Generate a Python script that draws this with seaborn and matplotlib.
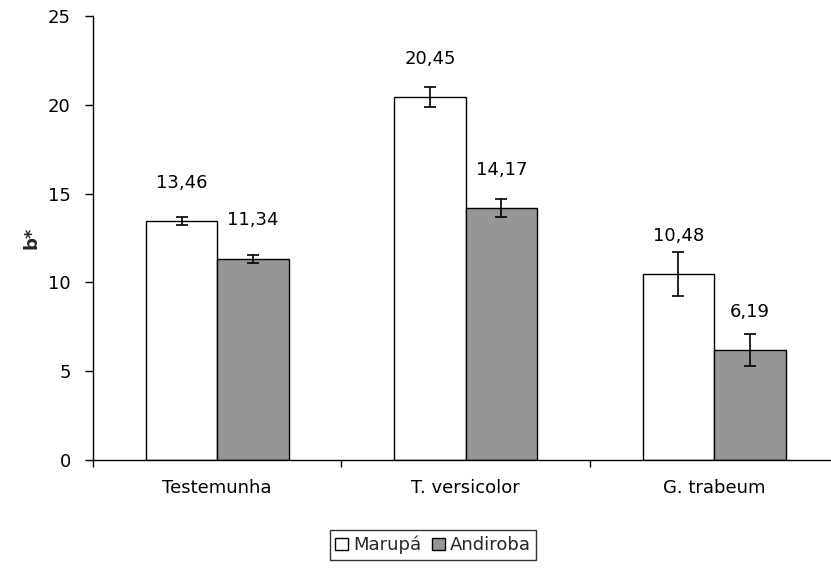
import matplotlib
matplotlib.use("Agg")
import matplotlib.pyplot as plt
import seaborn as sns
import pandas as pd
from matplotlib.ticker import FixedLocator

categories = ["Testemunha", "T. versicolor", "G. trabeum"]
series = ["Marupá", "Andiroba"]
marupa = [13.46, 20.45, 10.48]
andiroba = [11.34, 14.17, 6.19]
marupa_err = [0.25, 0.56, 1.24]
andiroba_err = [0.22, 0.50, 0.90]
yticks = [0, 5, 10, 15, 20, 25]

df = pd.DataFrame({
    "cat": categories * 2,
    "serie": [series[0]] * 3 + [series[1]] * 3,
    "val": marupa + andiroba,
    "err": marupa_err + andiroba_err,
})

sns.set_theme(style="white")
plt.rcParams["font.family"] = ["DejaVu Sans"]
FS = 13

fig = plt.figure(figsize=(8.31, 5.70), dpi=100)
ax_w = 1 - 93 / 831
ax = fig.add_axes([93 / 831, 110 / 570, ax_w, (460 - 16) / 570])

sns.barplot(data=df, x="cat", y="val", hue="serie", order=categories,
            hue_order=series, palette=["white", "#969696"], width=0.575,
            edgecolor="black", linewidth=1.0, errorbar=None, ax=ax,
            saturation=1)

for cont, errs in zip(ax.containers, [marupa_err, andiroba_err]):
    for rect, e in zip(cont, errs):
        x = rect.get_x() + rect.get_width() / 2
        h = rect.get_height()
        ax.errorbar(x, h, yerr=e, color="black", capsize=4.3, elinewidth=1.2,
                    capthick=1.2, fmt="none", zorder=5)
        ax.annotate(f"{h:.2f}".replace(".", ","), xy=(x, h), xytext=(0, 21),
                    textcoords="offset points", ha="center", va="bottom",
                    fontsize=FS, color="black")

ax.set_ylim(0, 25)
ax.set_xlim(-0.5, 2.47)
ax.set_yticks(yticks)
ax.set_xlabel("")
ax.set_ylabel("b*", fontsize=FS, fontweight="bold")
ax.yaxis.set_label_coords((40 - 93) / (ax_w * 831), 0.5)
for s in ["top", "right"]:
    ax.spines[s].set_visible(False)
for s in ["left", "bottom"]:
    ax.spines[s].set_color("black")
    ax.spines[s].set_linewidth(1.0)

ax.tick_params(axis="y", which="major", direction="out", length=6, width=1,
               color="black", labelsize=FS, labelcolor="black", pad=10, left=True)
ax.tick_params(axis="x", which="major", length=0, labelsize=FS,
               labelcolor="black", pad=14)
ax.xaxis.set_minor_locator(FixedLocator([-0.5, 0.5, 1.5]))
ax.tick_params(axis="x", which="minor", direction="out", length=5, width=1,
               color="black", bottom=True)

leg = ax.legend(loc="center", bbox_to_anchor=(433 / 831, 1 - 545 / 570),
                bbox_transform=fig.transFigure, ncol=2, frameon=True,
                fontsize=FS, handlelength=0.7, handleheight=0.7,
                handletextpad=0.3, columnspacing=0.6, borderpad=0.3,
                fancybox=False, borderaxespad=0)
leg.get_frame().set_edgecolor("black")
leg.get_frame().set_linewidth(1.0)

fig.savefig("out.png", dpi=100)
